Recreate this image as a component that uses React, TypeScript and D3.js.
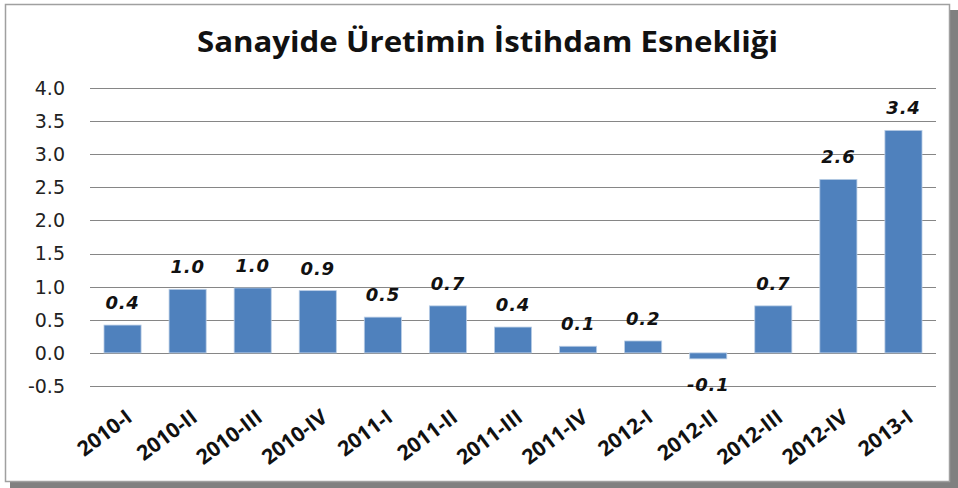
import React from 'react';
import * as d3 from 'd3';

const quarters = ['2010-I', '2010-II', '2010-III', '2010-IV', '2011-I', '2011-II', '2011-III', '2011-IV', '2012-I', '2012-II', '2012-III', '2012-IV', '2013-I'];
const elasticity = [0.42, 0.96, 0.98, 0.94, 0.54, 0.71, 0.39, 0.1, 0.18, -0.09, 0.71, 2.62, 3.36];
const yTicks = [-0.5, 0, 0.5, 1, 1.5, 2, 2.5, 3, 3.5, 4];
const title = 'Sanayide Üretimin İstihdam Esnekliği';

// excel style minus (hyphen), not the unicode one d3 gives
const fmt = (v: number) => d3.format('.1f')(v).replace('\u2212', '-');

const App = () => {
    const width = 958;
    const height = 488;
    const marginLeft = 90;
    const marginRight = 22;
    const plotTop = 88;
    const plotBottom = 386;

    const x = d3.scaleBand().domain(quarters).range([marginLeft, width - marginRight]).paddingInner(0.43).paddingOuter(0.215);
    const y = d3.scaleLinear().domain([-0.5, 4]).range([plotBottom, plotTop]);

    return (
        <svg width={width} height={height} style={{ position: 'fixed', left: 0, top: 0 }}>
            {/* frame with shadow */}
            <rect x={10} y={482} width={948} height={6} fill="#808080" />
            <rect x={950} y={10} width={8} height={478} fill="#808080" />
            <rect x={5.5} y={4.5} width={944} height={477} fill="#fff" stroke="#a0a0a0" strokeWidth={1.5} />

            <text x={197} y={52} textLength={581} lengthAdjust="spacingAndGlyphs" fontFamily="'Open Sans', sans-serif" fontWeight="bold" fontSize={28} fill="#111">
                {title}
            </text>

            <g>
                {yTicks.map(t => (
                    <g key={t}>
                        <line x1={marginLeft} x2={width - marginRight} y1={Math.round(y(t)) + 0.5} y2={Math.round(y(t)) + 0.5} stroke="#868686" strokeWidth={1} />
                        <text x={65} y={y(t)} dy="0.36em" textAnchor="end" fontFamily="'DejaVu Sans', sans-serif" fontSize={19} fill="#222">
                            {fmt(t)}
                        </text>
                    </g>
                ))}
            </g>

            <g>
                {quarters.map((q, i) => {
                    const v = elasticity[i];
                    return (
                        <rect key={q} x={x(q)} width={x.bandwidth()} y={y(Math.max(0, v))} height={Math.abs(y(v) - y(0))} fill="#4f81bd" stroke="#b9cde5" strokeWidth={0.8} />
                    );
                })}
            </g>

            <g fontFamily="'DejaVu Sans', sans-serif" fontWeight="bold" fontStyle="italic" fontSize={18} fill="#111" textAnchor="middle" letterSpacing={0.8}>
                {quarters.map((q, i) => {
                    const v = elasticity[i];
                    const cx = x(q)! + x.bandwidth() / 2;
                    const ty = v >= 0 ? y(v) - 16 : y(v) + 32;
                    return (
                        <text key={q} x={cx} y={ty}>{fmt(v)}</text>
                    );
                })}
            </g>

            <g fontFamily="'Open Sans', sans-serif" fontWeight="bold" fontSize={21} fill="#111" textAnchor="end">
                {quarters.map(q => {
                    const cx = x(q)! + x.bandwidth() / 2 + 2;
                    return (
                        <text key={q} transform={`translate(${cx},${408}) rotate(-37)`} dy="0.72em">{q}</text>
                    );
                })}
            </g>
        </svg>
    );
};

export default App;
